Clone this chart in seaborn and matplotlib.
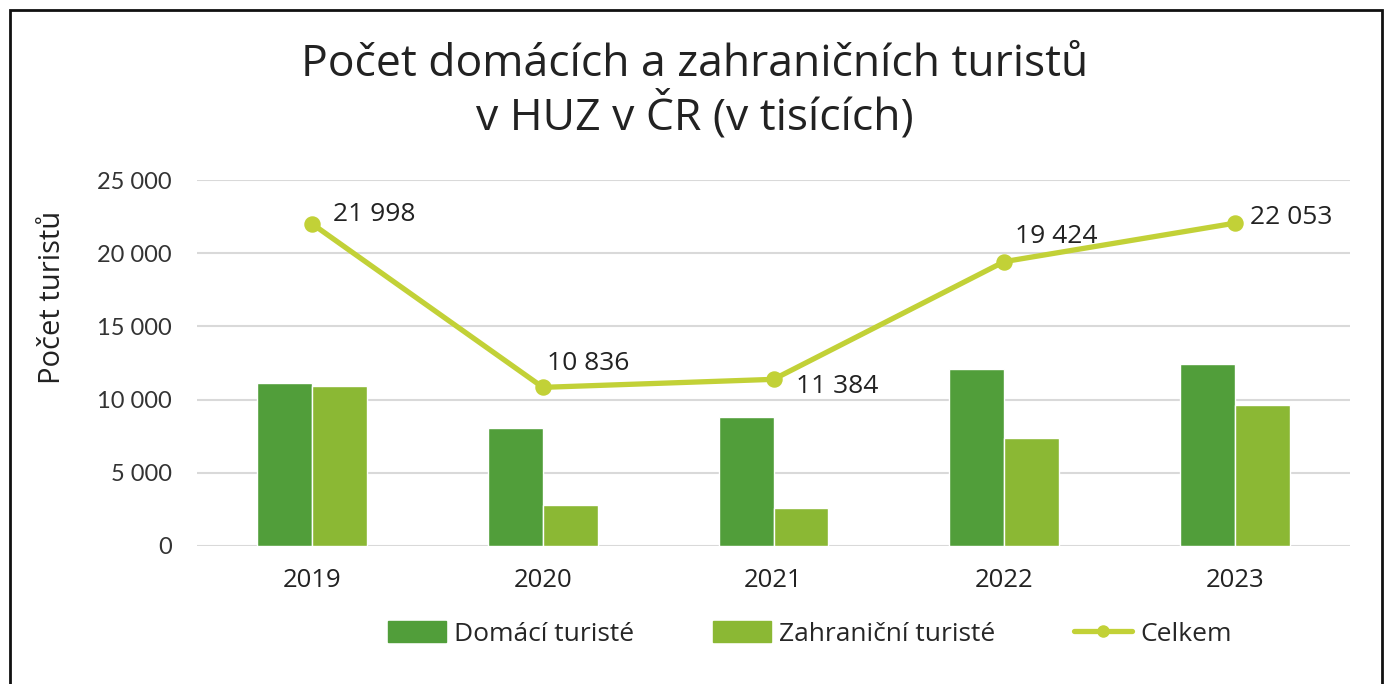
import pandas as pd
import numpy as np
import matplotlib
matplotlib.use("Agg")
import matplotlib.pyplot as plt
import matplotlib.patches as mpatches
import matplotlib.lines as mlines
from matplotlib.ticker import FuncFormatter
import seaborn as sns

years = ["2019", "2020", "2021", "2022", "2023"]
domestic = [11100, 8030, 8800, 12070, 12450]
foreign = [10898, 2806, 2584, 7354, 9603]
totals = [21998, 10836, 11384, 19424, 22053]
total_labels = ["21 998", "10 836", "11 384", "19 424", "22 053"]

series_names = ["Domácí turisté", "Zahraniční turisté"]
bar_colors = ["#519E3A", "#8BB834"]
line_color = "#C2D137"

sns.set_theme(style="white")
plt.rcParams["font.family"] = ["Open Sans", "DejaVu Sans"]
tick_font = ["Lato", "DejaVu Sans"]

df = pd.DataFrame({
    "rok": years * 2,
    "turisté": domestic + foreign,
    "skupina": [series_names[0]] * len(years) + [series_names[1]] * len(years),
})

fig = plt.figure(figsize=(13.89, 6.84), dpi=100)
ax = fig.add_axes([0.1418, 0.2018, 0.8302, 0.535])

sns.barplot(data=df, x="rok", y="turisté", hue="skupina", palette=bar_colors,
            width=0.476, gap=0, saturation=1, ax=ax, legend=False, zorder=2)
sns.pointplot(x=years, y=totals, color=line_color, markersize=9, linewidth=3.8,
              ax=ax, zorder=3)

# label offsets in points (dx, dy)
offsets = [(15, 7), (3, 17), (16, -5), (8, 18), (11, 4)]
for i, (t, lab) in enumerate(zip(totals, total_labels)):
    ax.annotate(lab, (i, t), xytext=offsets[i], textcoords="offset points",
                ha="left", va="center", fontsize=19, color="#222222")

ax.set_ylim(0, 25000)
ax.set_xlim(-0.5, 4.5)
ax.set_yticks(np.arange(0, 25001, 5000))
ax.yaxis.set_major_formatter(FuncFormatter(lambda v, p: f"{int(v):,}".replace(",", " ")))
ax.grid(axis="y", color="#D9D9D9", linewidth=1.5, zorder=0)
ax.set_axisbelow(True)
for s in ax.spines.values():
    s.set_visible(False)
ax.tick_params(axis="y", length=0, labelsize=17, colors="#333333", pad=18)
ax.tick_params(axis="x", length=0, labelsize=18.5, colors="#222222", pad=16)
for lbl in ax.get_yticklabels():
    lbl.set_family(tick_font)
ax.set_xlabel("")
ax.set_ylabel("Počet turistů", fontsize=21, color="#222222")
ax.yaxis.set_label_coords(-0.113, 0.678)

fig.text(0.5, 0.866, "Počet domácích a zahraničních turistů\nv HUZ v ČR (v tisících)",
         ha="center", va="center", fontsize=32, color="#222222", linespacing=1.12)

handles = [
    mpatches.Patch(color=bar_colors[0], label=series_names[0]),
    mpatches.Patch(color=bar_colors[1], label=series_names[1]),
    mlines.Line2D([], [], color=line_color, linewidth=3.8, marker="o", markersize=8, label="Celkem"),
]
fig.legend(handles=handles, loc="center", bbox_to_anchor=(0.583, 0.073), ncol=3,
           frameon=False, fontsize=19, handlelength=2.2, handleheight=0.8,
           columnspacing=3.0, handletextpad=0.3)

fig.patches.append(mpatches.Rectangle((0.0075, -0.1), 0.9875, 1.085, transform=fig.transFigure,
                                      fill=False, edgecolor="#111111", linewidth=2))

fig.savefig("out.png", dpi=100)
